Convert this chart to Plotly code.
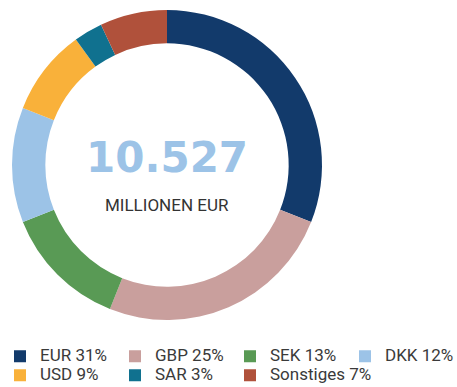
import plotly.graph_objects as go

# Currency breakdown (share in %)
currencies = ["EUR", "GBP", "SEK", "DKK", "USD", "SAR", "Sonstiges"]
shares = [31, 25, 13, 12, 9, 3, 7]
colors = ["#123a6b", "#c99f9d", "#599a55", "#9cc3e7", "#f9b13a", "#10718f", "#b0513b"]
total_label = "10.527"
unit_label = "MILLIONEN EUR"

W, H = 457, 387
cx, cy, r = 167, 165, 155

# legend rows are sized by the (small) legend font; labels are drawn larger
legend_names = [f'<span style="font-size:17px">{c} {s}%</span>'
                for c, s in zip(currencies, shares)]

fig = go.Figure(
    go.Pie(
        labels=legend_names,
        values=shares,
        marker=dict(colors=colors, line=dict(width=0)),
        hole=0.785,
        sort=False,
        direction="clockwise",
        rotation=0,
        textinfo="none",
        hoverinfo="label",
        domain=dict(x=[(cx - r) / W, (cx + r) / W],
                    y=[1 - (cy + r) / H, 1 - (cy - r) / H]),
    )
)

fig.add_annotation(
    x=cx / W, y=1 - 157 / H, xref="paper", yref="paper",
    text=f"<b>{total_label}</b>", showarrow=False,
    font=dict(family="DejaVu Sans", size=42, color="#9cc3e7"),
    xanchor="center", yanchor="middle",
)
fig.add_annotation(
    x=cx / W, y=1 - 205 / H, xref="paper", yref="paper",
    text=unit_label, showarrow=False,
    font=dict(family="Roboto", size=17, color="#333333"),
    xanchor="center", yanchor="middle",
)

fig.update_layout(
    width=W, height=H,
    margin=dict(l=0, r=0, t=0, b=0, autoexpand=False),
    paper_bgcolor="white",
    plot_bgcolor="white",
    showlegend=True,
    legend=dict(
        orientation="h",
        x=0, xanchor="left",
        y=-0.007, yanchor="bottom",
        entrywidth=70, entrywidthmode="pixels",
        font=dict(family="Roboto", size=12, color="#3a3a3a"),
        tracegroupgap=0,
        bgcolor="rgba(0,0,0,0)",
    ),
)

fig.write_html("out.html")
